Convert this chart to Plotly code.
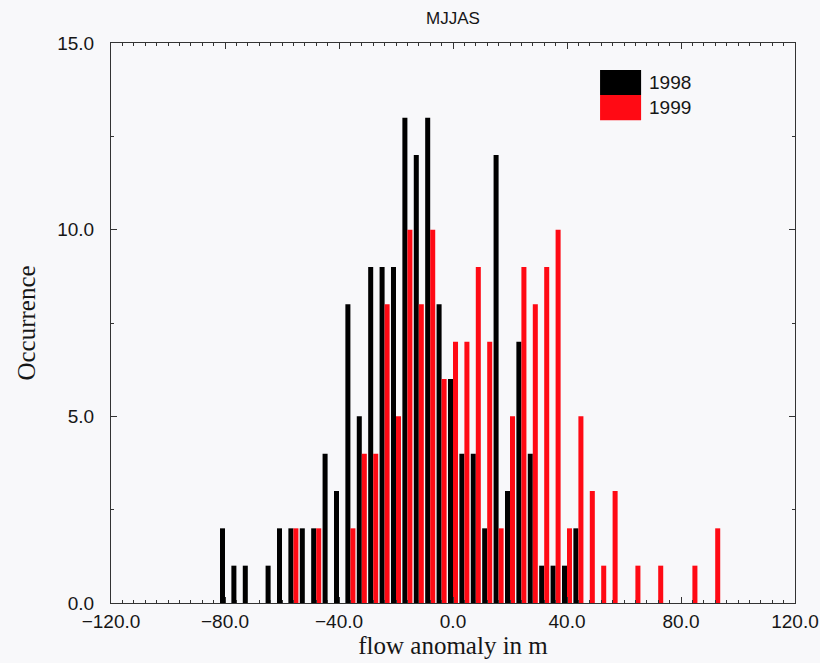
import plotly.graph_objects as go

# Histogram of flow anomaly (4 m bins), May-September
bins_1998 = [-80, -76, -72, -64, -60, -56, -52, -48, -44, -40, -36, -32, -28, -24, -20,
             -16, -12, -8, -4, 0, 4, 8, 12, 16, 20, 24, 28, 32, 36, 40, 44]
count_1998 = [2, 1, 1, 1, 2, 2, 2, 2, 4, 3, 8, 5, 9, 9, 9,
              13, 12, 13, 8, 6, 4, 4, 2, 12, 3, 7, 4, 1, 1, 1, 2]

bins_1999 = [-56, -48, -36, -32, -28, -24, -20, -16, -12, -8, -4, 0, 4, 8, 12,
             16, 20, 24, 28, 32, 36, 40, 44, 48, 52, 56, 64, 72, 84, 92]
count_1999 = [2, 2, 2, 4, 4, 8, 5, 10, 8, 10, 6, 7, 7, 9, 7,
              2, 5, 9, 8, 9, 10, 2, 5, 3, 1, 3, 1, 1, 1, 2]

series_names = ["1998", "1999"]
series_colors = ["#000000", "#ff0a14"]
x_ticks = [-120, -80, -40, 0, 40, 80, 120]
y_ticks = [0, 5, 10, 15]

SANS = "Liberation Sans, Arial, sans-serif"
SERIF = "Liberation Serif, Times New Roman, serif"
BG = "#f8f8fa"
INK = "#161616"

fig = go.Figure()
for xs, ys, name, col in [(bins_1998, count_1998, series_names[0], series_colors[0]),
                          (bins_1999, count_1999, series_names[1], series_colors[1])]:
    fig.add_trace(go.Bar(x=xs, y=ys, name=name, marker=dict(color=col, line=dict(width=0)),
                         showlegend=False))

axis_common = dict(
    showline=True, linecolor="#333333", linewidth=1, mirror="ticks",
    ticks="inside", tickcolor="#333333", tickwidth=1, showgrid=False, zeroline=False,
    tickfont=dict(family=SANS, size=19, color=INK), automargin=False,
)

fig.update_xaxes(
    range=[-120, 120], tickvals=x_ticks, tickformat=".1f", ticklen=6,
    minor=dict(dtick=4, tick0=0, ticks="inside", ticklen=3, tickcolor="#333333", showgrid=False),
    title=dict(text="flow anomaly in m", font=dict(family=SERIF, size=25, color=INK),
               standoff=4),
    ticklabelstandoff=1,
    **axis_common,
)
fig.update_yaxes(
    range=[0, 15], tickvals=y_ticks, tickformat=".1f", ticklen=6,
    minor=dict(dtick=2.5, tick0=0, ticks="inside", ticklen=3, tickcolor="#333333", showgrid=False),
    title=dict(text="Occurrence", font=dict(family=SERIF, size=25, color=INK),
               standoff=14),
    ticklabelstandoff=12,
    **axis_common,
)

# Legend drawn as two stacked colour boxes with labels
box_x0, box_x1 = 0.715, 0.775
box_rows = [(0.907, 0.952), (0.862, 0.907)]
for (y0, y1), name, col in zip(box_rows, series_names, series_colors):
    fig.add_shape(type="rect", xref="paper", yref="paper", x0=box_x0, x1=box_x1, y0=y0, y1=y1,
                  fillcolor=col, line=dict(width=0))
    fig.add_annotation(xref="paper", yref="paper", x=box_x1 + 0.008, y=(y0 + y1) / 2,
                       text=name, showarrow=False, xanchor="left", yanchor="middle",
                       font=dict(family=SANS, size=19, color=INK))

fig.update_layout(
    width=820, height=663,
    margin=dict(l=111, r=25, t=43, b=60),
    paper_bgcolor=BG, plot_bgcolor=BG,
    barmode="group", bargap=0.12, bargroupgap=0,
    title=dict(text="MJJAS", x=0.5, xref="paper", xanchor="center", y=0.973, yanchor="middle",
               font=dict(family=SANS, size=17, color=INK)),
)

fig.write_html("out.html")
